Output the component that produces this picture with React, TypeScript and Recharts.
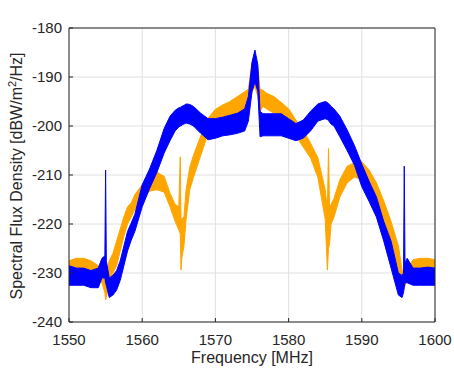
import { ComposedChart, Area, XAxis, YAxis, CartesianGrid } from "recharts";

// frequency grid (MHz) the bands are read at
const freq = [
  1550, 1551, 1552, 1553, 1554, 1554.5, 1554.9, 1555, 1555.1, 1555.5,
  1556, 1556.5, 1557, 1557.5, 1558, 1558.5, 1559, 1560, 1561, 1562,
  1563, 1563.8, 1564.5, 1565, 1565.2, 1565.3, 1565.4, 1565.7, 1566, 1566.5,
  1567, 1568, 1569, 1570, 1571, 1572, 1573, 1574, 1574.5, 1575,
  1575.4, 1575.8, 1576.1, 1576.5, 1577, 1578, 1579, 1580, 1581, 1582,
  1583, 1584, 1585, 1585.3, 1585.45, 1585.6, 1585.8, 1586.2, 1587, 1588,
  1589, 1590, 1591, 1592, 1593, 1594, 1595, 1595.5, 1595.7, 1595.8,
  1595.9, 1596.2, 1597, 1598, 1599, 1600,
];

// noise band of the blue spectrum (low / high edge, dBW/m^2/Hz)
const blueLow = [
  -232.5, -232.5, -232.5, -233, -233, -231, -231, -232, -232.5, -235,
  -234.5, -233.5, -231.5, -228.5, -225.5, -223.3, -221.5, -216.5, -212.8, -209.5,
  -205.5, -203, -201, -200.2, -200, -200, -199.8, -199.6, -199.4, -199.6,
  -200, -201.5, -202.8, -202.5, -202, -201.8, -201.5, -201, -199, -193,
  -191, -193, -202.2, -202, -202, -202, -202, -202.5, -203, -202.5,
  -201, -199, -198.5, -198.7, -198.9, -199.2, -199.6, -200, -202.2, -205,
  -208, -212.4, -215.4, -218.6, -223.5, -229, -234.5, -235, -234, -233,
  -232, -232, -232.5, -232.5, -232.5, -232.5,
];
const blueHigh = [
  -228.5, -229, -229, -229.5, -229, -227, -226.5, -209, -227.5, -231,
  -230.5, -229.5, -227.5, -224.5, -221.5, -219.8, -218, -212, -208.8, -205,
  -200.5, -198, -196.8, -196.3, -196.2, -196.1, -196, -195.8, -195.5, -195.6,
  -196, -197.4, -198.5, -198.5, -198.2, -197.8, -197.4, -196.5, -194, -187,
  -184.5, -187.5, -197, -197.5, -197.5, -197.5, -197.5, -198.5, -199.5, -198.8,
  -197, -195.5, -195, -195.2, -195.4, -195.6, -196, -196.5, -198, -200.8,
  -204, -207.8, -211.3, -214.5, -219.5, -223.5, -230, -230.5, -230, -208.2,
  -228, -227, -229, -229, -228.8, -229,
];

// noise band of the orange spectrum
const orangeLow = [
  -230.5, -230.5, -231, -231, -231.5, -232, -234, -235.5, -235, -232,
  -230, -228.5, -225.5, -222.5, -220, -218.6, -217, -215, -213.3, -213,
  -213.5, -216.5, -219.5, -221.2, -222, -229.4, -227, -224.5, -219, -213,
  -210.5, -206, -201.5, -200, -199, -198.3, -197.5, -196.7, -196, -193,
  -192, -194, -197, -196, -196.5, -197.4, -198.5, -199.5, -202, -204.3,
  -206.5, -210.5, -219, -229.4, -225, -224, -220, -218.6, -214.5, -211.6,
  -210.4, -211, -213, -215.7, -220, -223.8, -229.4, -233.5, -233, -232.8,
  -232.5, -231.5, -230.8, -230.8, -230.8, -230.8,
];
const orangeHigh = [
  -227.5, -227, -227, -227.5, -228.5, -229, -230, -231, -230, -227.5,
  -226, -223.5, -221, -218.5, -216.5, -215.7, -214, -212, -210, -209.4,
  -210.3, -213.7, -216, -216.5, -206.3, -219, -219, -218.5, -213, -208.4,
  -206, -202, -198.4, -196.6, -195.7, -195, -194, -193, -192.5, -187,
  -185.9, -188, -192.5, -192.7, -193.3, -194, -195.2, -196.5, -198.8, -200.8,
  -203.5, -206.5, -213, -217, -204.6, -217, -216, -214.8, -211, -208.2,
  -207.5, -207.3, -209, -211.6, -215.3, -219.5, -224.5, -229.4, -230, -230.5,
  -230.5, -229, -227.3, -227, -227, -227.3,
];

const xTicks = [1550, 1560, 1570, 1580, 1590, 1600];
const yTicks = [-240, -230, -220, -210, -200, -190, -180];

const data = freq.map((f, i) => ({
  f,
  blue: [blueLow[i], blueHigh[i]],
  orange: [orangeLow[i], orangeHigh[i]],
}));

const FONT = '"Liberation Sans", Arial, Helvetica, sans-serif';
const AXIS = "#262626";

const YLabel = () => (
  <text
    transform="translate(22,176) rotate(-90)"
    textAnchor="middle"
    fontFamily={FONT}
    fontSize={16}
    fill={AXIS}
  >
    Spectral Flux Density [dBW/m
    <tspan dy={-6} fontSize={11}>2</tspan>
    <tspan dy={6}>/Hz]</tspan>
  </text>
);

export default function App() {
  return (
    <div style={{ position: "absolute", left: 0, top: 0, width: 454, height: 378 }}>
      <ComposedChart
        width={454}
        height={378}
        data={data}
        margin={{ top: 27, right: 18, left: 0, bottom: 0 }}
        style={{ fontFamily: FONT }}
      >
        <CartesianGrid stroke="#e0e0e0" strokeWidth={1} />
        <XAxis
          dataKey="f"
          type="number"
          domain={[1550, 1600]}
          ticks={xTicks}
          interval={0}
          allowDataOverflow
          height={56}
          tickSize={-4}
          tickMargin={16}
          stroke={AXIS}
          tick={{ fill: AXIS, fontSize: 15 }}
          label={{
            value: "Frequency [MHz]",
            position: "insideBottom",
            offset: 15,
            fill: AXIS,
            fontSize: 16,
          }}
        />
        <XAxis
          xAxisId="top"
          orientation="top"
          dataKey="f"
          type="number"
          domain={[1550, 1600]}
          ticks={xTicks}
          interval={0}
          allowDataOverflow
          height={1}
          tickSize={-4}
          tick={false}
          stroke={AXIS}
        />
        <YAxis
          type="number"
          domain={[-240, -180]}
          ticks={yTicks}
          interval={0}
          allowDataOverflow
          width={69}
          tickSize={-4}
          tickMargin={11}
          stroke={AXIS}
          tick={{ fill: AXIS, fontSize: 15 }}
          label={<YLabel />}
        />
        <YAxis
          yAxisId="right"
          orientation="right"
          type="number"
          domain={[-240, -180]}
          ticks={yTicks}
          interval={0}
          allowDataOverflow
          width={1}
          tickSize={-4}
          tick={false}
          stroke={AXIS}
        />
        <Area
          type="linear"
          dataKey="orange"
          stroke="#FFA500"
          strokeWidth={1}
          fill="#FFA500"
          fillOpacity={1}
          dot={false}
          activeDot={false}
          isAnimationActive={false}
        />
        <Area
          type="linear"
          dataKey="blue"
          stroke="#0000FF"
          strokeWidth={1}
          fill="#0000FF"
          fillOpacity={1}
          dot={false}
          activeDot={false}
          isAnimationActive={false}
        />
      </ComposedChart>
    </div>
  );
}
